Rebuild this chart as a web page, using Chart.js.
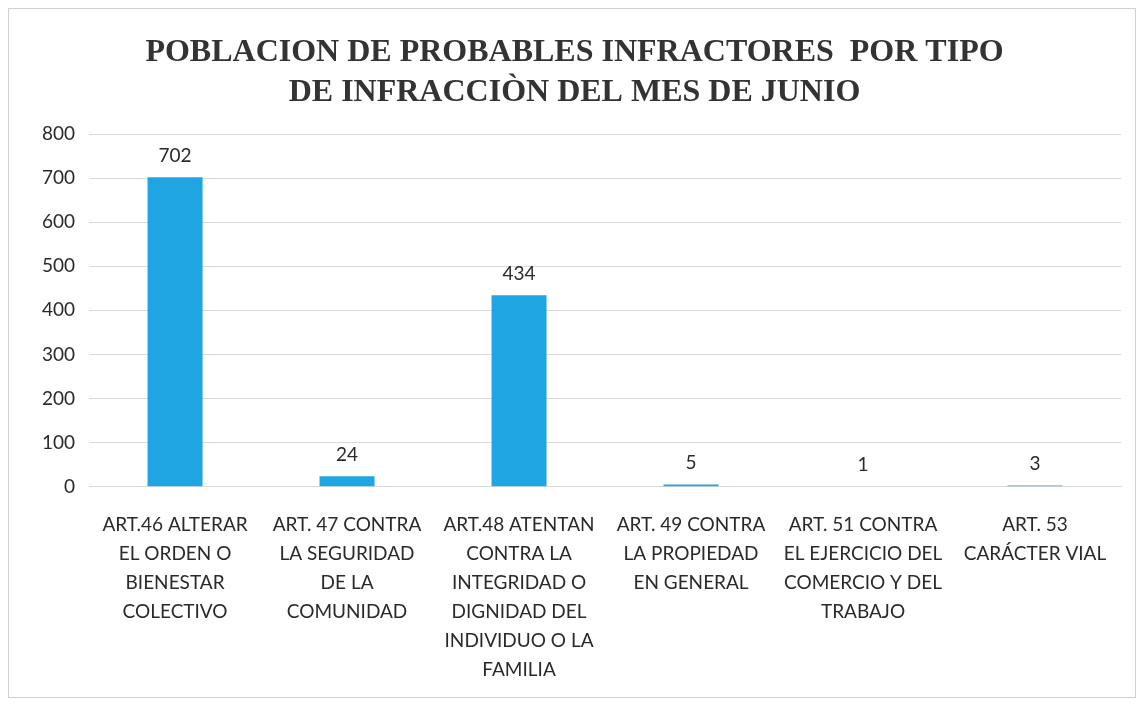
<!DOCTYPE html>
<html>
<head>
<meta charset="utf-8">
<script src="https://cdn.jsdelivr.net/npm/chart.js@4"></script>
<style>
  html,body{margin:0;padding:0;background:#fff;}
  #wrap{width:1141px;height:705px;position:relative;}
</style>
</head>
<body>
<div id="wrap"><canvas id="myChart"></canvas></div>
<script>
// datos del grafico
const categorias = [
    ['ART.46 ALTERAR','EL ORDEN O','BIENESTAR','COLECTIVO'],
    ['ART. 47 CONTRA','LA SEGURIDAD','DE LA','COMUNIDAD'],
    ['ART.48 ATENTAN','CONTRA LA','INTEGRIDAD O','DIGNIDAD DEL','INDIVIDUO O LA','FAMILIA'],
    ['ART. 49 CONTRA','LA PROPIEDAD','EN GENERAL'],
    ['ART. 51 CONTRA','EL EJERCICIO DEL','COMERCIO Y DEL','TRABAJO'],
    ['ART. 53','CARÁCTER VIAL']
];
const infractores = [702, 24, 434, 5, 1, 3];
const tituloLineas = ['POBLACION DE PROBABLES INFRACTORES  POR TIPO', 'DE INFRACCIÒN DEL MES DE JUNIO'];

const marco = {
    id: 'marco',
    beforeDraw(chart){
        const c = chart.ctx;
        c.save();
        c.fillStyle = '#fff';
        c.fillRect(0,0,chart.width,chart.height);
        c.strokeStyle = '#d0d0d0';
        c.lineWidth = 1;
        c.strokeRect(8.5,8.5,chart.width-14,chart.height-16);
        c.restore();
    }
};

const etiquetas = {
    id: 'etiquetas',
    afterDatasetsDraw(chart){
        const c = chart.ctx;
        const meta = chart.getDatasetMeta(0);
        c.save();
        c.font = '19px Lato';
        c.fillStyle = '#2a2a2a';
        c.textAlign = 'center';
        c.textBaseline = 'bottom';
        meta.data.forEach((bar,i) => {
            c.fillText(infractores[i], bar.x, bar.y - 12);
        });
        c.restore();
    }
};

const data = {
    labels: categorias,
    datasets: [{
        label: 'Infractores',
        data: infractores,
        backgroundColor: '#1fa6e2',
        barPercentage: 0.32,
        categoryPercentage: 1
    }]
};

const config = {
    type: 'bar',
    data,
    plugins: [marco, etiquetas],
    options: {
        responsive: true,
        maintainAspectRatio: false,
        animation: false,
        layout: {padding: {left: 28, right: 20, top: 14, bottom: 5}},
        plugins: {
            legend: {display: false},
            tooltip: {enabled: false},
            title: {
                display: true,
                text: tituloLineas,
                color: '#333',
                font: {family: 'Liberation Serif', size: 32, weight: 'bold', lineHeight: 1.25},
                padding: {top: 19, bottom: 21}
            }
        },
        scales: {
            y: {
                min: 0,
                max: 800,
                ticks: {stepSize: 100, color: '#2a2a2a', font: {family: 'Lato', size: 19}, padding: 14},
                grid: {color: '#d9d9d9', drawTicks: false},
                border: {display: false}
            },
            x: {
                ticks: {color: '#2a2a2a', font: {family: 'Lato', size: 19, lineHeight: 1.52}, maxRotation: 0, autoSkip: false, padding: 16},
                grid: {display: false},
                border: {color: '#d9d9d9'}
            }
        }
    }
};

const ctx = document.getElementById('myChart');
const myChart = new Chart(ctx, config);
</script>
</body>
</html>
